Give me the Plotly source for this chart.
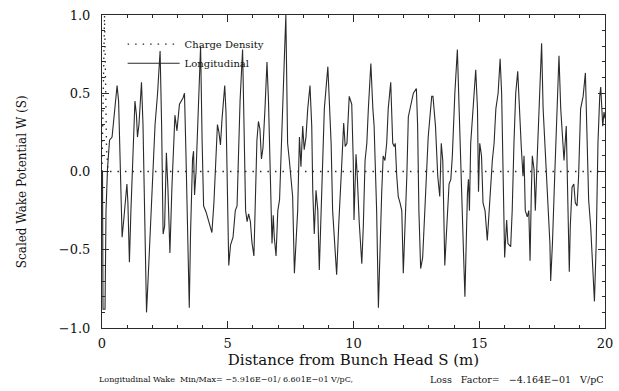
import plotly.graph_objects as go

# Longitudinal wake potential (S in m, scaled W)
s_wake = [0.02, 0.04, 0.12, 0.16, 0.22, 0.30, 0.40, 0.48, 0.60, 0.66, 0.72, 0.80, 0.87, 0.93, 0.99,
          1.03, 1.09, 1.15, 1.23, 1.31, 1.37, 1.41, 1.47, 1.57, 1.63, 1.69, 1.77, 1.83, 1.91, 1.99,
          2.11, 2.21, 2.31, 2.37, 2.43, 2.49, 2.56, 2.62, 2.70, 2.78, 2.90, 2.98, 3.08, 3.22, 3.28,
          3.34, 3.40, 3.47, 3.52, 3.60, 3.64, 3.68, 3.74, 3.82, 3.92, 3.98, 4.04, 4.14, 4.26, 4.37,
          4.45, 4.53, 4.59, 4.65, 4.71, 4.77, 4.88, 4.93, 4.97, 5.04, 5.11, 5.21, 5.30, 5.37, 5.43,
          5.49, 5.59, 5.65, 5.71, 5.77, 5.83, 5.90, 5.96, 6.04, 6.10, 6.16, 6.22, 6.28, 6.34, 6.40,
          6.48, 6.56, 6.62, 6.68, 6.76, 6.81, 6.85, 6.92, 6.99, 7.06, 7.12, 7.19, 7.25, 7.31, 7.38,
          7.45, 7.51, 7.58, 7.65, 7.72, 7.78, 7.85, 7.91, 7.98, 8.04, 8.11, 8.18, 8.27, 8.34, 8.38,
          8.44, 8.51, 8.58, 8.64, 8.71, 8.78, 8.84, 8.98, 9.04, 9.11, 9.17, 9.24, 9.33, 9.41, 9.46,
          9.54, 9.61, 9.67, 9.74, 9.83, 9.93, 9.99, 10.02, 10.10, 10.15, 10.23, 10.33, 10.39, 10.46, 10.53,
          10.59, 10.69, 10.77, 10.82, 10.86, 10.92, 10.99, 11.05, 11.12, 11.18, 11.25, 11.32, 11.38, 11.48, 11.56,
          11.62, 11.66, 11.72, 11.78, 11.85, 11.92, 11.98, 12.05, 12.12, 12.18, 12.25, 12.32, 12.38, 12.50, 12.55,
          12.60, 12.67, 12.75, 12.80, 12.88, 12.97, 13.11, 13.16, 13.26, 13.35, 13.43, 13.49, 13.55, 13.63, 13.71,
          13.80, 13.87, 13.93, 14.03, 14.13, 14.20, 14.27, 14.33, 14.39, 14.43, 14.49, 14.53, 14.57, 14.61, 14.66,
          14.75, 14.86, 14.93, 14.97, 15.02, 15.09, 15.15, 15.23, 15.32, 15.39, 15.46, 15.52, 15.59, 15.66, 15.75,
          15.83, 15.89, 15.94, 16.01, 16.09, 16.14, 16.25, 16.31, 16.38, 16.45, 16.53, 16.61, 16.67, 16.74, 16.78,
          16.83, 16.91, 16.97, 17.02, 17.07, 17.11, 17.18, 17.23, 17.30, 17.37, 17.48, 17.54, 17.61, 17.67, 17.74,
          17.81, 17.84, 17.91, 18.00, 18.07, 18.17, 18.24, 18.31, 18.37, 18.46, 18.53, 18.58, 18.62, 18.69, 18.76,
          18.82, 18.89, 18.95, 19.03, 19.13, 19.22, 19.28, 19.35, 19.43, 19.52, 19.58, 19.65, 19.72, 19.79, 19.83,
          19.91, 19.96, 20.0]
w_wake = [0.0, -0.88, -0.88, -0.25, 0.02, 0.20, 0.22, 0.36, 0.55, 0.45, 0.0, -0.42, -0.30, -0.16, -0.08,
          -0.20, -0.58, -0.25, 0.15, 0.45, 0.36, 0.22, 0.30, 0.57, 0.30, -0.30, -0.90, -0.70, -0.40, -0.05,
          0.30, 0.50, 0.77, 0.30, -0.40, -0.35, 0.12, -0.10, -0.52, -0.10, 0.36, 0.26, 0.43, 0.47, 0.50,
          0.10, -0.45, -0.87, -0.40, 0.08, 0.13, -0.15, 0.0, 0.38, 0.80, 0.20, -0.22, -0.26, -0.33, -0.39,
          -0.20, 0.10, 0.30, 0.25, 0.17, 0.33, 0.55, 0.38, -0.05, -0.60, -0.47, -0.42, -0.25, -0.22, 0.12,
          0.45, 0.78, 0.30, -0.25, -0.32, -0.27, -0.32, -0.45, -0.54, -0.10, 0.20, 0.32, 0.27, 0.08, 0.15,
          0.40, 0.70, 0.45, 0.10, -0.46, -0.28, -0.42, -0.54, -0.25, -0.18, 0.07, 0.40, 0.72, 1.0, 0.18,
          0.07, -0.03, -0.16, -0.65, -0.46, -0.25, 0.22, 0.03, 0.29, 0.14, 0.22, 0.40, 0.55, 0.29, -0.12,
          -0.40, -0.12, -0.25, -0.63, -0.25, 0.18, 0.40, 0.67, 0.40, 0.18, -0.25, -0.46, -0.66, -0.35, -0.14,
          0.07, 0.31, 0.16, 0.18, 0.48, 0.43, 0.07, -0.31, 0.11, -0.03, -0.33, -0.59, -0.35, 0.07, 0.18,
          0.40, 0.69, 0.40, 0.29, 0.07, -0.25, -0.87, -0.46, -0.14, 0.10, 0.07, 0.18, 0.40, 0.57, 0.18,
          0.16, 0.18, -0.03, -0.16, -0.20, -0.25, -0.65, -0.35, -0.03, 0.35, 0.40, 0.44, 0.50, 0.53, 0.29,
          -0.25, -0.62, -0.55, -0.35, -0.03, 0.22, 0.48, 0.48, 0.29, -0.03, -0.16, 0.18, 0.07, -0.60, -0.35,
          -0.08, -0.05, 0.10, 0.50, 0.78, 0.40, -0.03, -0.35, -0.60, -0.80, -0.35, -0.14, -0.05, -0.25, 0.18,
          0.40, 0.65, 0.40, -0.13, 0.18, 0.10, -0.20, -0.25, -0.44, -0.25, -0.03, 0.07, 0.18, 0.40, 0.50,
          0.72, 0.50, 0.07, -0.55, -0.31, -0.46, -0.48, -0.25, 0.18, 0.50, 0.64, 0.30, 0.16, -0.03, 0.10,
          -0.25, -0.29, -0.25, -0.57, -0.14, 0.10, 0.01, -0.25, 0.07, 0.40, 0.82, 0.40, 0.18, -0.03, -0.25,
          -0.46, -0.70, -0.46, -0.03, 0.29, 0.74, 0.40, 0.22, 0.07, 0.29, -0.25, -0.64, -0.35, -0.10, -0.08,
          -0.20, -0.22, -0.03, 0.40, 0.48, 0.63, 0.29, -0.18, -0.35, -0.67, -0.83, -0.46, 0.18, 0.48, 0.54,
          0.29, 0.38, 0.34]

# Charge density (very short bunch at the head)
s_charge = [0.0, 0.03, 0.07, 0.10, 0.14, 0.18, 0.24, 20.0]
q_charge = [0.0, 0.35, 0.90, 1.0, 0.60, 0.15, 0.0, 0.0]

x_ticks = [0, 5, 10, 15, 20]
y_ticks = [-1.0, -0.5, 0.0, 0.5, 1.0]

x_title = "Distance from Bunch Head S (m)"
y_title = "Scaled Wake Potential W (S)"
footer_left = "Longitudinal Wake  Min/Max= \u22125.916E\u221201/ 6.601E\u221201 V/pC,"
footer_right = "Loss   Factor=   \u22124.164E\u221201   V/pC"

serif = "DejaVu Serif"
ink = "#2a2a2a"

fig = go.Figure()
fig.add_trace(go.Scatter(x=s_charge, y=q_charge, mode="lines", name="Charge Density",
                         line=dict(color=ink, width=1.3, dash="1.5px,6px")))
fig.add_trace(go.Scatter(x=s_wake, y=w_wake, mode="lines", name="Longitudinal",
                         line=dict(color=ink, width=1.1)))

axis_common = dict(showline=True, linecolor=ink, linewidth=1, mirror="ticks",
                   ticks="inside", tickcolor=ink, showgrid=False, zeroline=False,
                   ticklabeloverflow="allow", automargin=False,
                   tickfont=dict(family=serif, size=13, color="#111"))

fig.update_xaxes(range=[0, 20], tickvals=x_ticks, ticklen=7, ticklabelstandoff=3,
                 minor=dict(dtick=1, ticks="inside", ticklen=3, tickcolor=ink),
                 title=dict(text=x_title, font=dict(family=serif, size=15, color="#111"), standoff=0),
                 **axis_common)
fig.update_yaxes(range=[-1, 1], tickvals=y_ticks, tickformat=".1f", ticklen=7, ticklabelstandoff=8,
                 minor=dict(dtick=0.1, ticks="inside", ticklen=3, tickcolor=ink),
                 **axis_common)

fig.add_annotation(xref="paper", yref="paper", x=-0.159, y=0.466, xanchor="center", yanchor="middle",
                   textangle=-90, showarrow=False, text=y_title,
                   font=dict(family=serif, size=12, color="#111"))
fig.add_annotation(xref="paper", yref="paper", x=-0.01, y=-0.166, xanchor="left", yanchor="middle",
                   showarrow=False, text=footer_left,
                   font=dict(family=serif, size=8, color="#111"))
fig.add_annotation(xref="paper", yref="paper", x=1.0, y=-0.166, xanchor="right", yanchor="middle",
                   showarrow=False, text=footer_right,
                   font=dict(family=serif, size=9.5, color="#111"))

fig.update_layout(width=619, height=391, margin=dict(l=102, r=14, t=15, b=63, autoexpand=False),
                  paper_bgcolor="white", plot_bgcolor="white", showlegend=True,
                  legend=dict(x=0.041, y=0.953, xanchor="left", yanchor="top", itemwidth=52,
                              bgcolor="rgba(0,0,0,0)", tracegroupgap=0,
                              font=dict(family=serif, size=10, color="#111")))

fig.write_html("out.html", config={"displayModeBar": False},
               post_script="document.body.style.margin='0';")
